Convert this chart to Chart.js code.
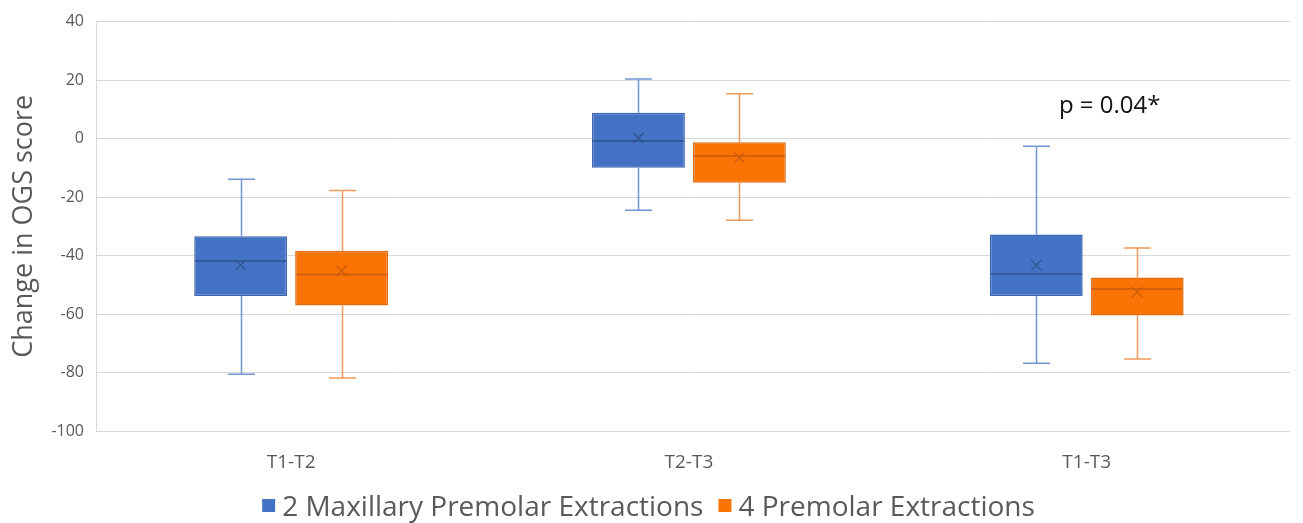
<!DOCTYPE html>
<html>
<head>
<meta charset="utf-8">
<script src="https://cdn.jsdelivr.net/npm/chart.js@4.4.1/dist/chart.umd.min.js"></script>
<style>
  html, body { margin: 0; padding: 0; background: #ffffff; }
  #wrap { width: 1303px; height: 523px; }
</style>
</head>
<body>
<div id="wrap"><canvas id="chart" width="1303" height="523"></canvas></div>
<script>
// Intervals between time points
const categories = ['T1-T2', 'T2-T3', 'T1-T3'];
const seriesNames = ['2 Maxillary Premolar Extractions', '4 Premolar Extractions'];

// Box plot statistics, 2 maxillary premolar extractions group
const twoMaxMin    = [-80.6, -24.5, -76.8];
const twoMaxQ1     = [-53.8, -10.0, -53.8];
const twoMaxMedian = [-41.9,  -0.8, -46.3];
const twoMaxQ3     = [-33.4,   8.8, -32.8];
const twoMaxMax    = [-13.9,  20.4,  -2.6];
const twoMaxMean   = [-43.3,   0.2, -43.3];

// Box plot statistics, 4 premolar extractions group
const fourMin    = [-81.9, -27.9, -75.4];
const fourQ1     = [-57.1, -15.1, -60.5];
const fourMedian = [-46.5,  -6.0, -51.4];
const fourQ3     = [-38.4,  -1.3, -47.5];
const fourMax    = [-17.8,  15.3, -37.4];
const fourMean   = [-45.3,  -6.5, -52.5];

// Y axis range and step
const yMin = -100, yMax = 40, yStep = 20;

// Significance note for the T1-T3 interval
const pNote = 'p = 0.04*';
const pNoteCategory = 'T1-T3';
const pNoteValue = 11;

const FONT = '"Open Sans", "Noto Sans", sans-serif';
const GREY = '#595959';

function boxDataset(label, q1, q3, stats, colors) {
  return {
    label: label,
    data: q1.map((v, i) => ({ x: i, y: [v, q3[i]] })),
    backgroundColor: colors.fill,
    borderColor: colors.border,
    borderWidth: 1.5,
    borderSkipped: false,
    stats: stats,
    whiskerColor: colors.whisker,
    markColor: colors.mark
  };
}

const datasets = [
  boxDataset(seriesNames[0], twoMaxQ1, twoMaxQ3,
    { min: twoMaxMin, median: twoMaxMedian, max: twoMaxMax, mean: twoMaxMean },
    { fill: '#4472C4', border: '#3B65B2', whisker: 'rgba(68,114,196,0.75)', mark: '#2F538F' }),
  boxDataset(seriesNames[1], fourQ1, fourQ3,
    { min: fourMin, median: fourMedian, max: fourMax, mean: fourMean },
    { fill: '#FA7305', border: '#E26A0C', whisker: 'rgba(236,125,49,0.8)', mark: '#C65A0E' })
];

// Whiskers, median lines and mean crosses drawn on the floating bars
const boxWhiskers = {
  id: 'boxWhiskers',
  afterDatasetsDraw(chart) {
    const ctx = chart.ctx;
    const ys = chart.scales.y;
    chart.data.datasets.forEach((ds, di) => {
      const meta = chart.getDatasetMeta(di);
      meta.data.forEach((bar, i) => {
        const st = ds.stats;
        const x = Math.round(bar.x) + 0.5;
        const half = bar.width / 2;
        const top = Math.min(bar.y, bar.base);
        const bottom = Math.max(bar.y, bar.base);
        const pMax = ys.getPixelForValue(st.max[i]);
        const pMin = ys.getPixelForValue(st.min[i]);
        const pMed = ys.getPixelForValue(st.median[i]);
        const pMean = ys.getPixelForValue(st.mean[i]);
        const cap = 13.5;
        ctx.save();
        ctx.strokeStyle = ds.whiskerColor;
        ctx.lineWidth = 1.5;
        ctx.beginPath();
        ctx.moveTo(x, top); ctx.lineTo(x, pMax);
        ctx.moveTo(x - cap, pMax); ctx.lineTo(x + cap, pMax);
        ctx.moveTo(x, bottom); ctx.lineTo(x, pMin);
        ctx.moveTo(x - cap, pMin); ctx.lineTo(x + cap, pMin);
        ctx.stroke();
        // median
        ctx.strokeStyle = ds.markColor;
        ctx.lineWidth = 1.5;
        ctx.beginPath();
        ctx.moveTo(bar.x - half + 1, pMed); ctx.lineTo(bar.x + half - 1, pMed);
        ctx.stroke();
        // mean
        const m = 5;
        ctx.lineWidth = 1.2;
        ctx.beginPath();
        ctx.moveTo(bar.x - m, pMean - m); ctx.lineTo(bar.x + m, pMean + m);
        ctx.moveTo(bar.x + m, pMean - m); ctx.lineTo(bar.x - m, pMean + m);
        ctx.stroke();
        ctx.restore();
      });
    });
  }
};

// Legend row and significance note
const extras = {
  id: 'extras',
  afterDraw(chart) {
    const ctx = chart.ctx;
    ctx.save();
    // significance note
    const xs = chart.scales.x, ys = chart.scales.y;
    const idx = categories.indexOf(pNoteCategory);
    ctx.font = '24px ' + FONT;
    ctx.fillStyle = '#111111';
    ctx.textAlign = 'center';
    ctx.textBaseline = 'middle';
    ctx.fillText(pNote, xs.getPixelForValue(idx) + 23, ys.getPixelForValue(pNoteValue));

    // legend
    ctx.font = '28px ' + FONT;
    ctx.textAlign = 'left';
    ctx.textBaseline = 'alphabetic';
    const box = 13, boxGap = 7, itemGap = 15;
    const items = chart.data.datasets.map(ds => ({ text: ds.label, color: ds.backgroundColor, w: ctx.measureText(ds.label).width }));
    const total = items.reduce((s, it) => s + box + boxGap + it.w, 0) + itemGap * (items.length - 1);
    let x = chart.width / 2 - 3 - total / 2;
    const baseline = 516;
    items.forEach(it => {
      ctx.fillStyle = it.color;
      ctx.fillRect(x, 499, box, box);
      x += box + boxGap;
      ctx.fillStyle = GREY;
      ctx.fillText(it.text, x, baseline);
      x += it.w + itemGap;
    });
    ctx.restore();
  }
};

new Chart(document.getElementById('chart'), {
  type: 'bar',
  data: { datasets: datasets },
  options: {
    responsive: false,
    devicePixelRatio: 1,
    animation: false,
    layout: { padding: { top: 20, right: 13, bottom: 0, left: 0 } },
    datasets: { bar: { categoryPercentage: 0.5075, barPercentage: 0.92 } },
    plugins: { legend: { display: false }, tooltip: { enabled: false } },
    scales: {
      x: {
        type: 'linear',
        offset: false,
        min: -0.4905,
        max: 2.511,
        grid: { display: false },
        border: { display: false },
        ticks: {
          stepSize: 1,
          includeBounds: false,
          autoSkip: false,
          maxRotation: 0,
          color: GREY,
          font: { family: FONT, size: 19 },
          padding: 12,
          callback: v => (Number.isInteger(v) && categories[v] !== undefined) ? categories[v] : ''
        },
        afterFit: s => { s.height = 92; }
      },
      y: {
        min: yMin, max: yMax,
        ticks: { stepSize: yStep, color: GREY, font: { family: FONT, size: 16 }, padding: 12 },
        grid: { color: '#D9D9D9', lineWidth: 1, drawTicks: false },
        border: { display: true, color: '#D9D9D9' },
        title: { display: true, text: 'Change in OGS score', color: GREY, font: { family: FONT, size: 27 }, padding: { top: 8, bottom: 0 } },
        afterFit: s => { s.width = 96; }
      }
    }
  },
  plugins: [boxWhiskers, extras]
});
</script>
</body>
</html>
